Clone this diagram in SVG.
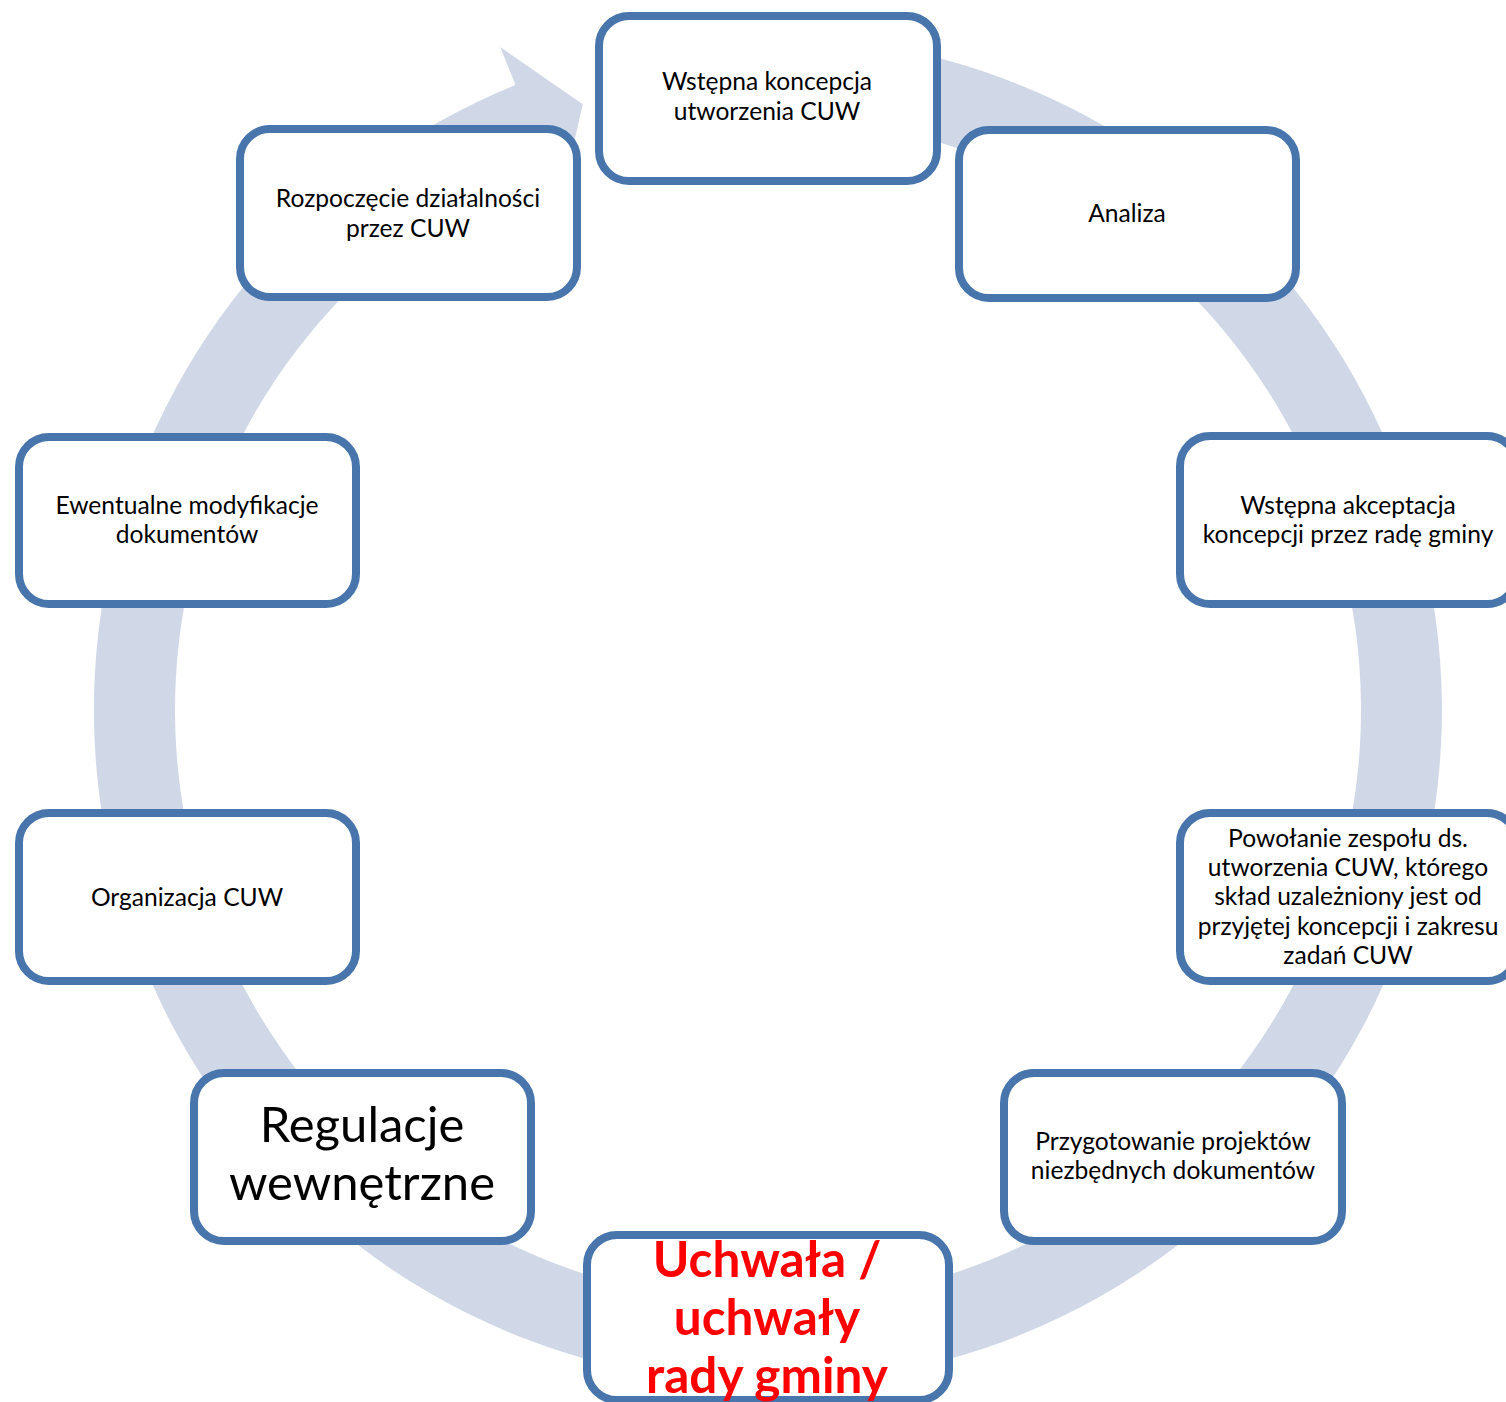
<svg xmlns="http://www.w3.org/2000/svg" width="1506" height="1402" viewBox="0 0 1506 1402">
<style>
.box{fill:#FFFFFF;stroke:#4775AC;stroke-width:8}
.t{font-family:Lato,"Liberation Sans",sans-serif;font-size:24.6px;fill:#000000;text-anchor:middle}
.big{font-family:Lato,"Liberation Sans",sans-serif;font-size:49px;fill:#000000;text-anchor:middle}
.red{font-family:Lato,"Liberation Sans",sans-serif;font-size:49.5px;font-weight:bold;fill:#FF0000;text-anchor:middle}
</style>
<rect width="1506" height="1402" fill="#FFFFFF"/>
<g id="connectors">
<path id="cycle-arrow" fill="#D0D8E8" d="M674.2,42.6 A674,674 0 1 1 515.5,85.1 L500.2,47.1 L582.8,104.2 L561.2,198.2 L545.9,160.2 A593,593 0 1 0 685.5,122.8 Z"/>
</g>
<g id="n1"><rect class="box" x="599" y="16" width="338" height="165" rx="30"/>
<text class="t" x="767" y="90">Wstępna koncepcja</text><text class="t" x="767" y="120">utworzenia CUW</text></g>
<g id="n2"><rect class="box" x="959" y="130" width="337" height="168" rx="30"/>
<text class="t" x="1127" y="222">Analiza</text></g>
<g id="n3"><rect class="box" x="1180" y="436" width="337" height="168" rx="30"/>
<text class="t" x="1348" y="514">Wstępna akceptacja</text><text class="t" x="1348" y="543">koncepcji przez radę gminy</text></g>
<g id="n4"><rect class="box" x="1180" y="813" width="337" height="168" rx="30"/>
<text class="t" x="1348" y="847">Powołanie zespołu ds.</text><text class="t" x="1348" y="876">utworzenia CUW, którego</text><text class="t" x="1348" y="905">skład uzależniony jest od</text><text class="t" x="1348" y="935">przyjętej koncepcji i zakresu</text><text class="t" x="1348" y="964">zadań CUW</text></g>
<g id="n5"><rect class="box" x="1004" y="1073" width="338" height="168" rx="30"/>
<text class="t" x="1173" y="1150">Przygotowanie projektów</text><text class="t" x="1173" y="1179">niezbędnych dokumentów</text></g>
<g id="n6"><rect class="box" x="587" y="1235" width="362" height="165" rx="30"/>
<text class="red" x="767" y="1277">Uchwała /</text><text class="red" x="767" y="1335">uchwały</text><text class="red" x="767" y="1393">rady gminy</text></g>
<g id="n7"><rect class="box" x="194" y="1073" width="337" height="168" rx="30"/>
<text class="big" x="362" y="1142">Regulacje</text><text class="big" x="362" y="1200">wewnętrzne</text></g>
<g id="n8"><rect class="box" x="19" y="813" width="337" height="168" rx="30"/>
<text class="t" x="187" y="906">Organizacja CUW</text></g>
<g id="n9"><rect class="box" x="19" y="437" width="337" height="167" rx="30"/>
<text class="t" x="187" y="514">Ewentualne modyfikacje</text><text class="t" x="187" y="543">dokumentów</text></g>
<g id="n10"><rect class="box" x="240" y="129" width="337" height="168" rx="30"/>
<text class="t" x="408" y="207">Rozpoczęcie działalności</text><text class="t" x="408" y="237">przez CUW</text></g>
</svg>
